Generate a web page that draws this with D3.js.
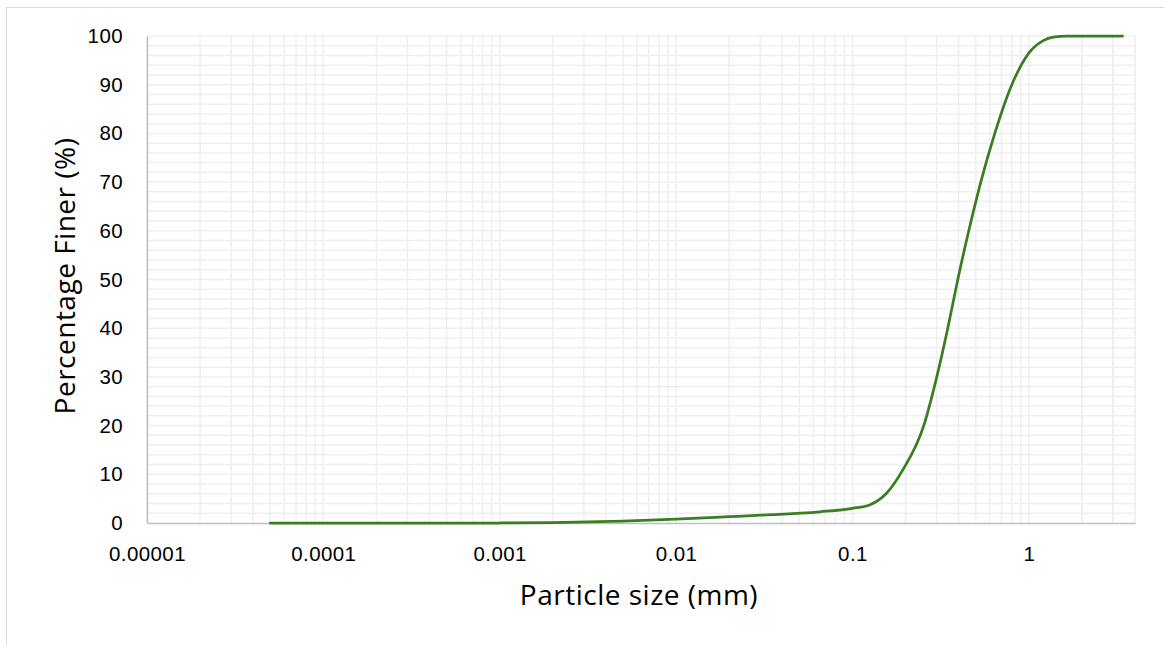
<!DOCTYPE html>
<html>
<head>
<meta charset="utf-8">
<script src="https://cdn.jsdelivr.net/npm/d3@7"></script>
<style>
  html, body { margin: 0; padding: 0; background: #fff; }
  svg { display: block; font-family: "Open Sans", "Liberation Sans", Arial, sans-serif; }
</style>
</head>
<body>
<svg id="chart" width="1164" height="645"></svg>
<script>
// Grain size distribution: particle size (mm) vs. percentage finer (%)
const particleSize = [0.00005, 0.0001, 0.0005, 0.001, 0.002, 0.005, 0.01, 0.02, 0.03, 0.0653,
                      0.1, 0.125, 0.156, 0.193, 0.2537, 0.3007, 0.3471, 0.3957, 0.4566, 0.5341,
                      0.6413, 0.801, 1.0, 1.2, 1.4, 1.64, 2.0, 3.4];
const percentFiner = [0, 0, 0, 0, 0.1, 0.4, 0.8, 1.3, 1.6, 2.3,
                      3.0, 3.7, 6.1, 10.9, 20, 30, 40, 50, 60, 70,
                      80, 90, 96.5, 99, 99.8, 100, 100, 100];
const xTickValues = [0.00001, 0.0001, 0.001, 0.01, 0.1, 1];
const xTickLabels = ["0.00001", "0.0001", "0.001", "0.01", "0.1", "1"];
const yTickValues = [0, 10, 20, 30, 40, 50, 60, 70, 80, 90, 100];

const svg = d3.select("#chart");
const margin = { left: 147, right: 1135, top: 36, bottom: 523 };

// outer chart frame
svg.append("rect")
  .attr("x", 6.5).attr("y", 7.5)
  .attr("width", 1170).attr("height", 660)
  .attr("fill", "none").attr("stroke", "#d9d9d9").attr("stroke-width", 1);

const x = d3.scaleLog().domain([0.00001, 4]).range([margin.left, margin.right]);
const y = d3.scaleLinear().domain([0, 100]).range([margin.bottom, margin.top]);

const grid = svg.append("g").attr("stroke", "#efefef").attr("stroke-width", 1.5);

// vertical gridlines: every 1..9 multiple of each decade
const vLines = [];
for (let e = -5; e <= 0; e++) {
  for (let m = 1; m <= 9; m++) {
    const v = m * Math.pow(10, e);
    if (v <= 4.0001) vLines.push(v);
  }
}
vLines.push(2, 3, 4);
grid.selectAll("line.v").data(vLines).join("line")
  .attr("x1", d => x(d)).attr("x2", d => x(d))
  .attr("y1", margin.top).attr("y2", margin.bottom);

// horizontal gridlines every 2 %
grid.selectAll("line.h").data(d3.range(2, 101, 2)).join("line")
  .attr("x1", margin.left).attr("x2", margin.right)
  .attr("y1", d => y(d)).attr("y2", d => y(d));

// axes
const xAxis = d3.axisBottom(x).tickValues(xTickValues)
  .tickFormat((d, i) => xTickLabels[i]).tickSize(0).tickPadding(23);
const gx = svg.append("g").attr("transform", `translate(0,${margin.bottom})`).call(xAxis);
gx.select(".domain").attr("stroke", "#bfbfbf").attr("stroke-width", 1.5);
gx.selectAll("text").attr("font-size", 20.5).attr("letter-spacing", "0.4px").attr("fill", "#000");

const yAxis = d3.axisLeft(y).tickValues(yTickValues).tickSize(0).tickPadding(24);
const gy = svg.append("g").attr("transform", `translate(${margin.left},0)`).call(yAxis);
gy.select(".domain").attr("stroke", "#bfbfbf").attr("stroke-width", 1.5);
gy.selectAll("text").attr("font-size", 20.5).attr("letter-spacing", "0.4px").attr("fill", "#000");

// data curve
const line = d3.line()
  .x((d, i) => x(particleSize[i]))
  .y(d => y(d))
  .curve(d3.curveMonotoneX);
svg.append("path")
  .datum(percentFiner)
  .attr("d", line)
  .attr("fill", "none")
  .attr("stroke", "#3a7d22")
  .attr("stroke-width", 2.75)
  .attr("stroke-linecap", "round");

// axis titles
svg.append("text")
  .attr("x", 639).attr("y", 605)
  .attr("text-anchor", "middle").attr("font-size", 28).attr("letter-spacing", "0.5px").attr("fill", "#000")
  .text("Particle size (mm)");
svg.append("text")
  .attr("transform", "translate(75,276) rotate(-90)")
  .attr("text-anchor", "middle").attr("font-size", 28).attr("letter-spacing", "0.5px").attr("fill", "#000")
  .text("Percentage Finer (%)");
</script>
</body>
</html>
